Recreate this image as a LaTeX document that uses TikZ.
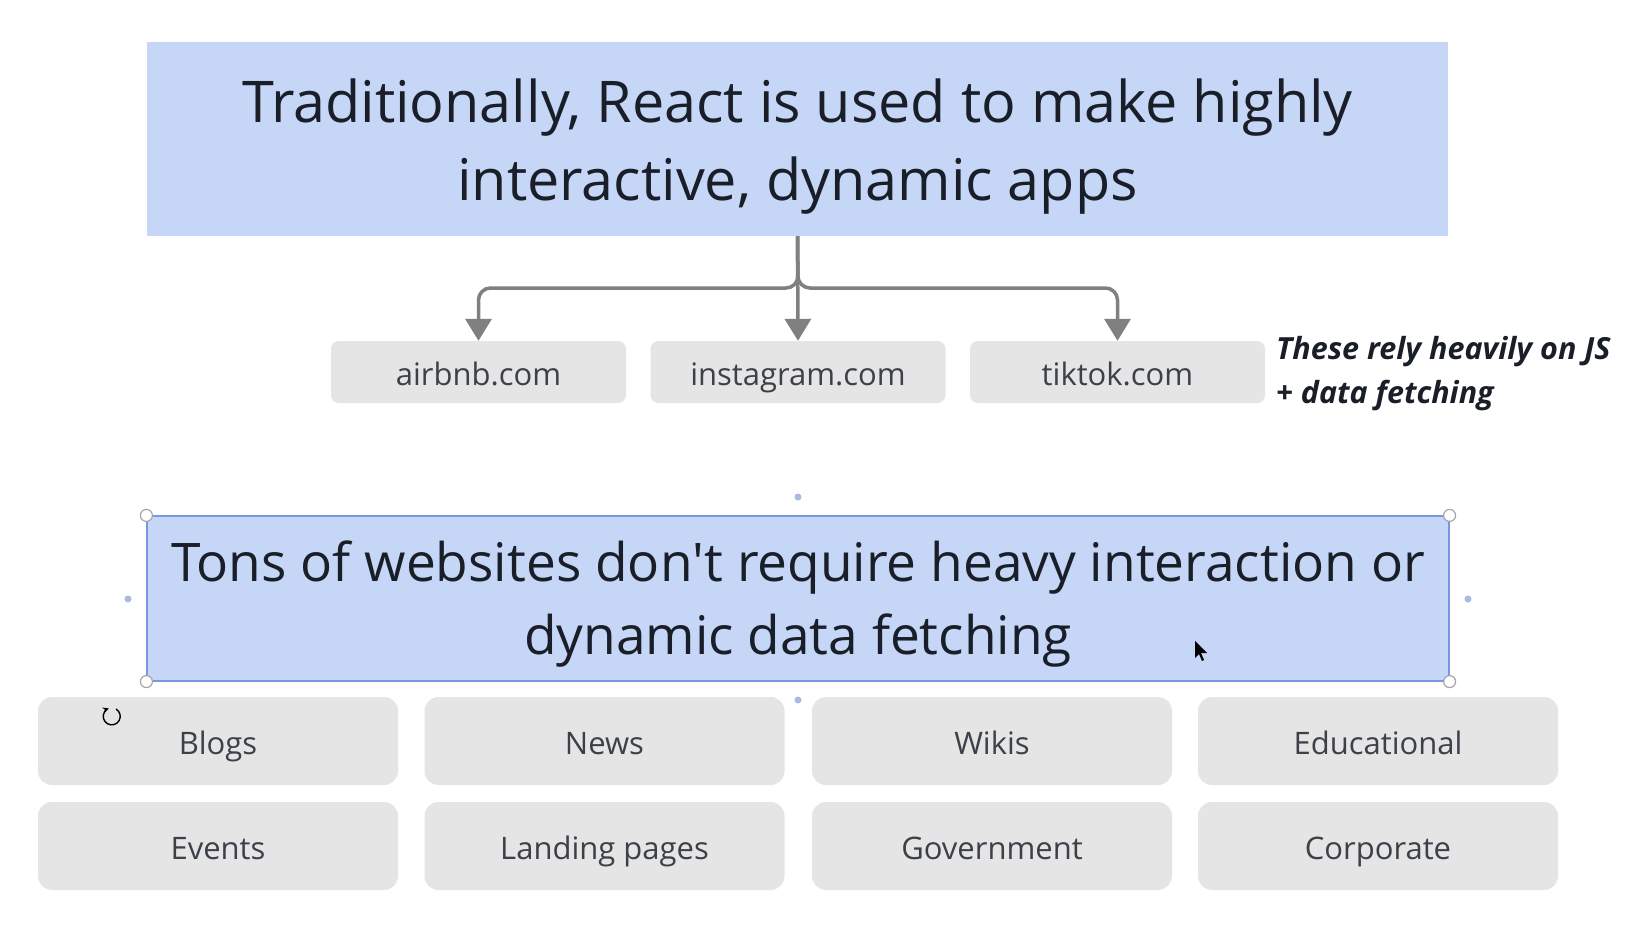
\documentclass[tikz,border=0pt]{standalone}
\usepackage{fontspec}
\setmainfont{Open Sans}
\usetikzlibrary{arrows.meta}
\definecolor{topblue}{RGB}{197,214,247}
\definecolor{selblue}{RGB}{120,150,228}
\definecolor{txt}{RGB}{26,30,40}
\definecolor{boxgray}{RGB}{229,229,229}
\definecolor{arrgray}{RGB}{128,128,128}
\definecolor{dotblue}{RGB}{170,185,225}
\begin{document}
\begin{tikzpicture}[x=1pt,y=-1pt,
  bigbox/.style={fill=topblue, inner sep=0pt},
  bigtext/.style={inner sep=0pt, align=center, text=txt},
  sitebox/.style={fill=boxgray, rounded corners=8pt, minimum width=295pt, minimum height=62pt, inner sep=0pt, text=txt!85, font=\fontsize{31}{36}\selectfont, text height=27pt, text depth=0pt},
  gridbox/.style={fill=boxgray, rounded corners=14pt, minimum width=360pt, minimum height=88pt, inner sep=0pt, text=txt!85, font=\fontsize{31}{36}\selectfont, text height=27pt, text depth=0pt},
  arr/.style={draw=arrgray, line width=3.5pt, -{Triangle[width=26pt,length=22pt]}, rounded corners=12pt},
  handle/.style={circle, draw=gray!70, fill=white, line width=1.2pt, minimum size=12pt, inner sep=0pt},
  middot/.style={circle, fill=dotblue, minimum size=7pt, inner sep=0pt}
]
\useasboundingbox (0,0) rectangle (1642,930);
\fill[white] (0,0) rectangle (1642,930);

% top box
\node[bigbox, minimum width=1301pt, minimum height=194pt] (top) at (797.5,139) {};
\node[bigtext, font=\fontsize{57.5}{78.5}\selectfont, yshift=-7.5pt] (toptext) at (top.center) {Traditionally, React is used to make highly\\interactive, dynamic apps};

% site boxes
\node[sitebox] (air) at (478.5,372) {airbnb.com};
\node[sitebox] (ins) at (798,372) {instagram.com};
\node[sitebox] (tik) at (1117.5,372) {tiktok.com};

\coordinate (branch) at (798,288);
\draw[arr] (top.south) -- (ins.north);
\draw[arr] (top.south) -- (branch) -| (air.north);
\draw[arr] (top.south) -- (branch) -| (tik.north);

% note
\node[anchor=west, align=left, text=txt, inner sep=0pt, font=\fontsize{30.5}{44}\selectfont\bfseries\itshape] (note) at (1276,374) {These rely heavily on JS\\+ data fetching};

% bottom box (selected)
\node[bigbox, draw=selblue, line width=1.2pt, minimum width=1302pt, minimum height=165pt] (bot) at (798,598.5) {};
\node[bigtext, font=\fontsize{53.2}{72.5}\selectfont, yshift=-5.5pt] (bottext) at (bot.center) {Tons of websites don\textquotesingle t require heavy interaction or\\dynamic data fetching};
\node[handle] (h1) at (bot.north west) {};
\node[handle] (h2) at (bot.north east) {};
\node[handle] (h3) at (bot.south west) {};
\node[handle] (h4) at (bot.south east) {};
\node[middot] (d1) at (798,497) {};
\node[middot] (d2) at (128,599) {};
\node[middot] (d3) at (1468,599) {};
\node[middot] (d4) at (798,700) {};

% grid
\node[gridbox] (g1) at (218,741) {Blogs};
\node[gridbox] (g2) at (604.5,741) {News};
\node[gridbox] (g3) at (992,741) {Wikis};
\node[gridbox] (g4) at (1378,741) {Educational};
\node[gridbox] (g5) at (218,846) {Events};
\node[gridbox] (g6) at (604.5,846) {Landing pages};
\node[gridbox] (g7) at (992,846) {Government};
\node[gridbox] (g8) at (1378,846) {Corporate};

% cursor
\fill[black] (1195,641) -- (1195,658) -- (1199,654) -- (1202,661) -- (1204,660) -- (1201,653) -- (1207,653) -- cycle;
% rotate icon
\draw[black, line width=1.4pt, -{Stealth[length=6pt,width=6pt]}] (116,709) arc (60:-250:8.5pt);
\end{tikzpicture}
\end{document}
